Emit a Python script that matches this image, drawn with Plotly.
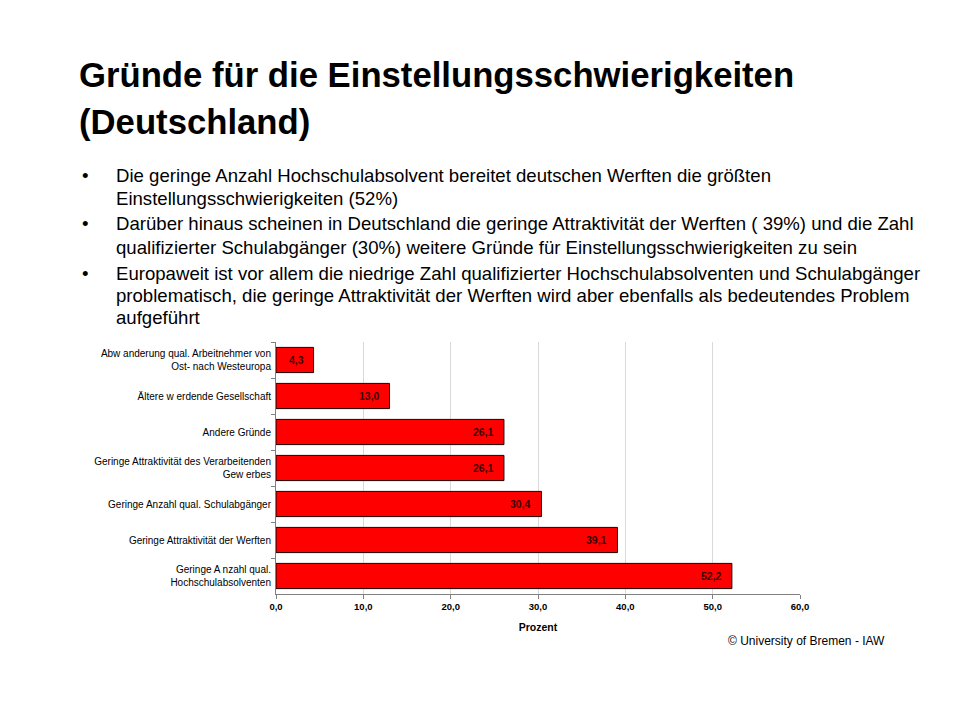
import plotly.graph_objects as go

categories = [
    "Abw anderung qual. Arbeitnehmer von<br>Ost- nach Westeuropa",
    "Ältere w erdende Gesellschaft",
    "Andere Gründe",
    "Geringe Attraktivität des Verarbeitenden<br>Gew erbes",
    "Geringe Anzahl qual. Schulabgänger",
    "Geringe Attraktivität der Werften",
    "Geringe A nzahl qual.<br>Hochschulabsolventen",
]
values = [4.3, 13.0, 26.1, 26.1, 30.4, 39.1, 52.2]
x_ticks = [0, 10, 20, 30, 40, 50, 60]

title_lines = ["Gründe für die Einstellungsschwierigkeiten", "(Deutschland)"]
bullets = [
    ["Die geringe Anzahl Hochschulabsolvent bereitet deutschen Werften die größten",
     "Einstellungsschwierigkeiten (52%)"],
    ["Darüber hinaus scheinen in Deutschland die geringe Attraktivität der Werften ( 39%) und die Zahl",
     "qualifizierter Schulabgänger (30%) weitere Gründe für Einstellungsschwierigkeiten zu sein"],
    ["Europaweit ist vor allem die niedrige Zahl qualifizierter Hochschulabsolventen und Schulabgänger",
     "problematisch, die geringe Attraktivität der Werften wird aber ebenfalls als bedeutendes Problem",
     "aufgeführt"],
]
footer = "© University of Bremen - IAW"

W, H = 960, 720
FONT = "Liberation Sans, Arial, sans-serif"

fig = go.Figure()
fig.add_trace(go.Bar(
    x=values, y=categories, orientation="h",
    marker=dict(color="#FF0000", line=dict(color="#1a0000", width=1)),
    width=0.7,
    hoverinfo="skip",
))

def px_x(x):
    return x / W

def px_y(y):
    return 1 - y / H

ann = []
# value labels (anchored to data)
for c, v in zip(categories, values):
    ann.append(dict(text="<b>" + f"{v:.1f}".replace(".", ",") + "</b>", x=v, y=c,
                    xref="x", yref="y", xanchor="right", yanchor="middle",
                    xshift=-8, showarrow=False,
                    font=dict(family=FONT, size=10.5, color="#3a0000")))
# title
for i, line in enumerate(title_lines):
    ann.append(dict(text="<b>" + line + "</b>", x=px_x(77), y=px_y(75 + i * 47),
                    xref="paper", yref="paper", xanchor="left", yanchor="middle",
                    showarrow=False, font=dict(family=FONT, size=34.7, color="#000000")))
# bullets
ys = [[175, 198], [223, 247], [273, 295, 317]]
for b, yy in zip(bullets, ys):
    ann.append(dict(text="•", x=px_x(80), y=px_y(yy[0]), xref="paper", yref="paper",
                    xanchor="left", yanchor="middle", showarrow=False,
                    font=dict(family=FONT, size=18.6, color="#000000")))
    for line, y in zip(b, yy):
        ann.append(dict(text=line, x=px_x(114), y=px_y(y), xref="paper", yref="paper",
                        xanchor="left", yanchor="middle", showarrow=False,
                        font=dict(family=FONT, size=18.6, color="#000000")))
# footer
ann.append(dict(text=footer, x=px_x(726), y=px_y(641), xref="paper", yref="paper",
                xanchor="left", yanchor="middle", showarrow=False,
                font=dict(family=FONT, size=12, color="#000000")))

fig.update_layout(
    width=W, height=H,
    margin=dict(l=0, r=0, t=0, b=0),
    paper_bgcolor="white", plot_bgcolor="white",
    separators=",.",
    showlegend=False,
    annotations=ann,
    xaxis=dict(
        domain=[px_x(276), px_x(800)],
        range=[0, 60], tickvals=x_ticks, tickformat=".1f",
        showgrid=True, gridcolor="#d9d9d9", gridwidth=1,
        showline=True, linecolor="#808080", linewidth=1,
        ticks="outside", ticklen=4, tickcolor="#808080",
        tickfont=dict(family=FONT, size=9.5, color="#000000", weight="bold"),
        title=dict(text="<b>Prozent</b>", font=dict(family=FONT, size=10.5, color="#000000"), standoff=12),
        zeroline=False, fixedrange=True, automargin=False,
    ),
    yaxis=dict(
        domain=[px_y(594), px_y(342)],
        autorange="reversed",
        showline=True, linecolor="#808080", linewidth=1,
        ticks="outside", ticklen=4, tickcolor="#808080",
        tickson="boundaries",
        tickfont=dict(family=FONT, size=10, color="#000000"),
        ticklabelstandoff=2,
        showgrid=False, fixedrange=True, automargin=False,
    ),
)

fig.write_html("out.html", config={"displayModeBar": False},
               post_script="document.body.style.margin='0';document.body.style.overflow='hidden';")
